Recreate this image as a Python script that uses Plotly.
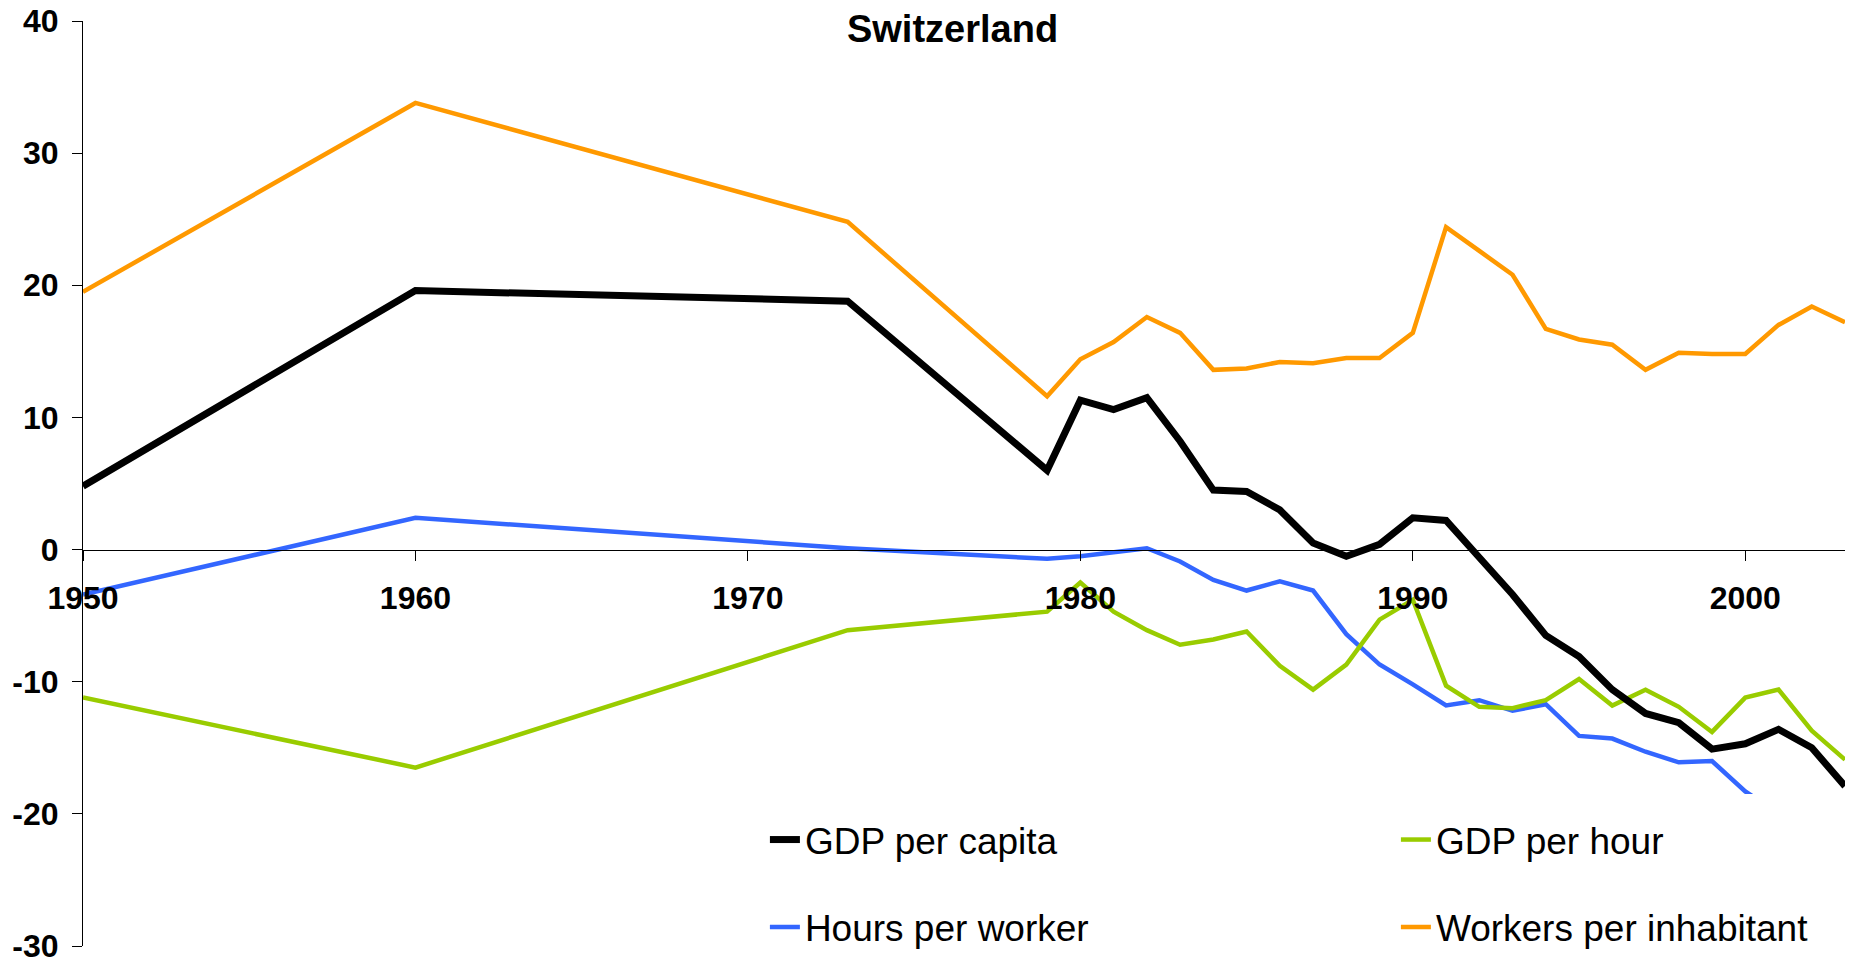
import plotly.graph_objects as go

years = [1950, 1960, 1973, 1979, 1980, 1981, 1982, 1983, 1984, 1985, 1986, 1987,
         1988, 1989, 1990, 1991, 1992, 1993, 1994, 1995, 1996, 1997, 1998, 1999,
         2000, 2001, 2002, 2003]

gdp_per_capita = [4.8, 19.6, 18.8, 6.0, 11.3, 10.6, 11.5, 8.2, 4.5, 4.4, 3.0, 0.5,
                  -0.5, 0.4, 2.4, 2.2, -0.6, -3.4, -6.5, -8.1, -10.6, -12.4, -13.1, -15.1,
                  -14.7, -13.6, -15.0, -17.9]

gdp_per_hour = [-11.2, -16.5, -6.1, -4.7, -2.5, -4.7, -6.1, -7.2, -6.8, -6.2, -8.8, -10.6,
                -8.7, -5.3, -3.8, -10.3, -11.9, -12.0, -11.4, -9.8, -11.8, -10.6, -11.9, -13.8,
                -11.2, -10.6, -13.7, -15.9]

hours_per_worker = [-3.4, 2.4, 0.1, -0.7, -0.5, -0.2, 0.1, -0.9, -2.3, -3.1, -2.4, -3.1,
                    -6.4, -8.7, -10.2, -11.8, -11.4, -12.2, -11.7, -14.1, -14.3, -15.3, -16.1, -16.0,
                    -18.3, -20.0, -19.7, -19.2]

workers_per_inhabitant = [19.5, 33.8, 24.8, 11.6, 14.4, 15.7, 17.6, 16.4, 13.6, 13.7, 14.2, 14.1,
                          14.5, 14.5, 16.4, 24.4, 22.6, 20.8, 16.7, 15.9, 15.5, 13.6, 14.9, 14.8,
                          14.8, 17.0, 18.4, 17.2]

x_ticks = [1950, 1960, 1970, 1980, 1990, 2000]
y_ticks = [-30, -20, -10, 0, 10, 20, 30, 40]

FONT = "Liberation Sans, Arial, Helvetica, sans-serif"

fig = go.Figure()
fig.add_trace(go.Scatter(x=years, y=hours_per_worker, mode="lines", name="Hours per worker",
                         line=dict(color="#3366FF", width=4.5), legend="legend2", legendrank=1))
fig.add_trace(go.Scatter(x=years, y=workers_per_inhabitant, mode="lines", name="Workers per inhabitant",
                         line=dict(color="#FF9900", width=4.5), legend="legend2", legendrank=2))
fig.add_trace(go.Scatter(x=years, y=gdp_per_hour, mode="lines", name="GDP per hour",
                         line=dict(color="#99CC00", width=4.5), legend="legend", legendrank=2))
fig.add_trace(go.Scatter(x=years, y=gdp_per_capita, mode="lines", name="GDP per capita",
                         line=dict(color="#000000", width=7), legend="legend", legendrank=1))

legend_common = dict(
    orientation="h",
    xref="paper", yref="paper",
    xanchor="left",
    yanchor="top",
    bgcolor="white",
    bordercolor="white",
    font=dict(family=FONT, size=37, color="black"),
    entrywidth=586,
    entrywidthmode="pixels",
    traceorder="normal",
)

# plot area: top 21 px, bottom 946 px -> height 925 px
PH = 925.0

fig.update_layout(
    width=1859, height=965,
    margin=dict(l=83, r=14, t=21, b=19, autoexpand=False),
    paper_bgcolor="white",
    plot_bgcolor="white",
    title=dict(text="Switzerland", x=0.5124, xanchor="center", xref="container",
               y=1 - 28.5 / 965, yanchor="middle", yref="container",
               font=dict(family=FONT, size=38, color="black", weight="bold")),
    legend=dict(**legend_common, x=0.3785, y=(946 - 794) / PH, borderwidth=15),
    legend2=dict(**legend_common, x=0.3870, y=(946 - 896.5) / PH, borderwidth=0),
    xaxis=dict(
        range=[1950, 2003],
        anchor="free", position=30 / 70,
        showline=True, linecolor="black", linewidth=1,
        ticks="outside", ticklen=10, tickcolor="black", tickwidth=1,
        tickvals=x_ticks, ticktext=[str(v) for v in x_ticks],
        tickfont=dict(family=FONT, size=32, color="black", weight="bold"),
        ticklabelstandoff=10,
        ticklabeloverflow="allow",
        showgrid=False, zeroline=False,
    ),
    yaxis=dict(
        range=[-30, 40],
        showline=True, linecolor="black", linewidth=1,
        ticks="outside", ticklen=10, tickcolor="black", tickwidth=1,
        tickvals=y_ticks, ticktext=[str(v) for v in y_ticks],
        tickfont=dict(family=FONT, size=32, color="black", weight="bold"),
        ticklabelstandoff=7,
        ticklabeloverflow="allow",
        showgrid=False, zeroline=False,
    ),
)

fig.write_html(
    "out.html",
    config={"displayModeBar": False},
    post_script="document.body.style.margin='0';document.body.style.overflow='hidden';",
)
